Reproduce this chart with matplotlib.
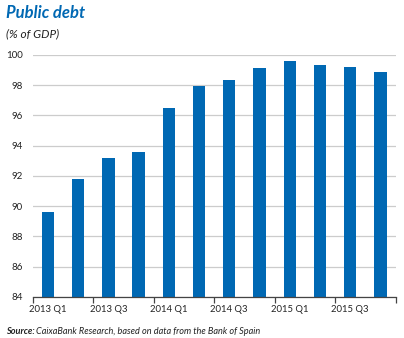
import matplotlib
matplotlib.use('Agg')
import matplotlib.pyplot as plt
import numpy as np

# public debt, % of GDP, quarterly
quarters = ['2013 Q1', '2013 Q2', '2013 Q3', '2013 Q4',
            '2014 Q1', '2014 Q2', '2014 Q3', '2014 Q4',
            '2015 Q1', '2015 Q2', '2015 Q3', '2015 Q4']
debt = [89.6, 91.8, 93.15, 93.6, 96.45, 97.95, 98.3, 99.15, 99.6, 99.3, 99.2, 98.85]
yticks = [84, 86, 88, 90, 92, 94, 96, 98, 100]

blue = '#0068b3'
plt.rcParams['font.family'] = ['Lato', 'DejaVu Sans']

fig = plt.figure(figsize=(4.04, 3.38), dpi=100)
ax = fig.add_axes([0.081, 0.122, 0.898, 0.716])

x = np.arange(len(quarters))
ax.bar(x, [d - 84 for d in debt], bottom=84, width=0.41, color=blue, zorder=3)

ax.set_ylim(84, 100)
ax.set_xlim(-0.5, len(quarters) - 0.5)
ax.set_yticks(yticks)
ax.set_yticklabels([str(t) for t in yticks], fontsize=7, color='#222222')
ax.yaxis.grid(True, color='#cccccc', linewidth=0.9, zorder=0)
ax.tick_params(axis='y', length=0, pad=7)

# labels under every other bar, ticks on the boundaries
ax.set_xticks(x[::2])
ax.set_xticklabels(quarters[::2], fontsize=6.8, color='#222222')
ax.set_xticks(np.arange(-0.5, len(quarters), 2), minor=True)
ax.tick_params(axis='x', which='major', length=0, pad=6)
ax.tick_params(axis='x', which='minor', length=4, width=0.9, color='#444444', direction='out')

for s in ['top', 'right', 'left']:
    ax.spines[s].set_visible(False)
ax.spines['bottom'].set_color('#444444')
ax.spines['bottom'].set_linewidth(0.9)
ax.spines['bottom'].set_zorder(4)

fig.text(0.014, 0.962, 'Public debt', fontsize=12, fontweight='bold', style='italic',
         color=blue, va='center', ha='left')
fig.text(0.016, 0.900, '(% of GDP)', fontsize=8.5, style='italic', color='#222222',
         va='center', ha='left')
src = fig.text(0.015, 0.018, 'Source:', fontsize=6.6, fontweight='bold', style='italic',
               color='#222222', va='center', ha='left')
fig.canvas.draw()
bb = src.get_window_extent().transformed(fig.transFigure.inverted())
fig.text(bb.x1 + 0.004, 0.018, 'CaixaBank Research, based on data from the Bank of Spain',
         fontsize=6.6, style='italic', color='#222222', va='center', ha='left')

fig.savefig('out.png', dpi=100)
